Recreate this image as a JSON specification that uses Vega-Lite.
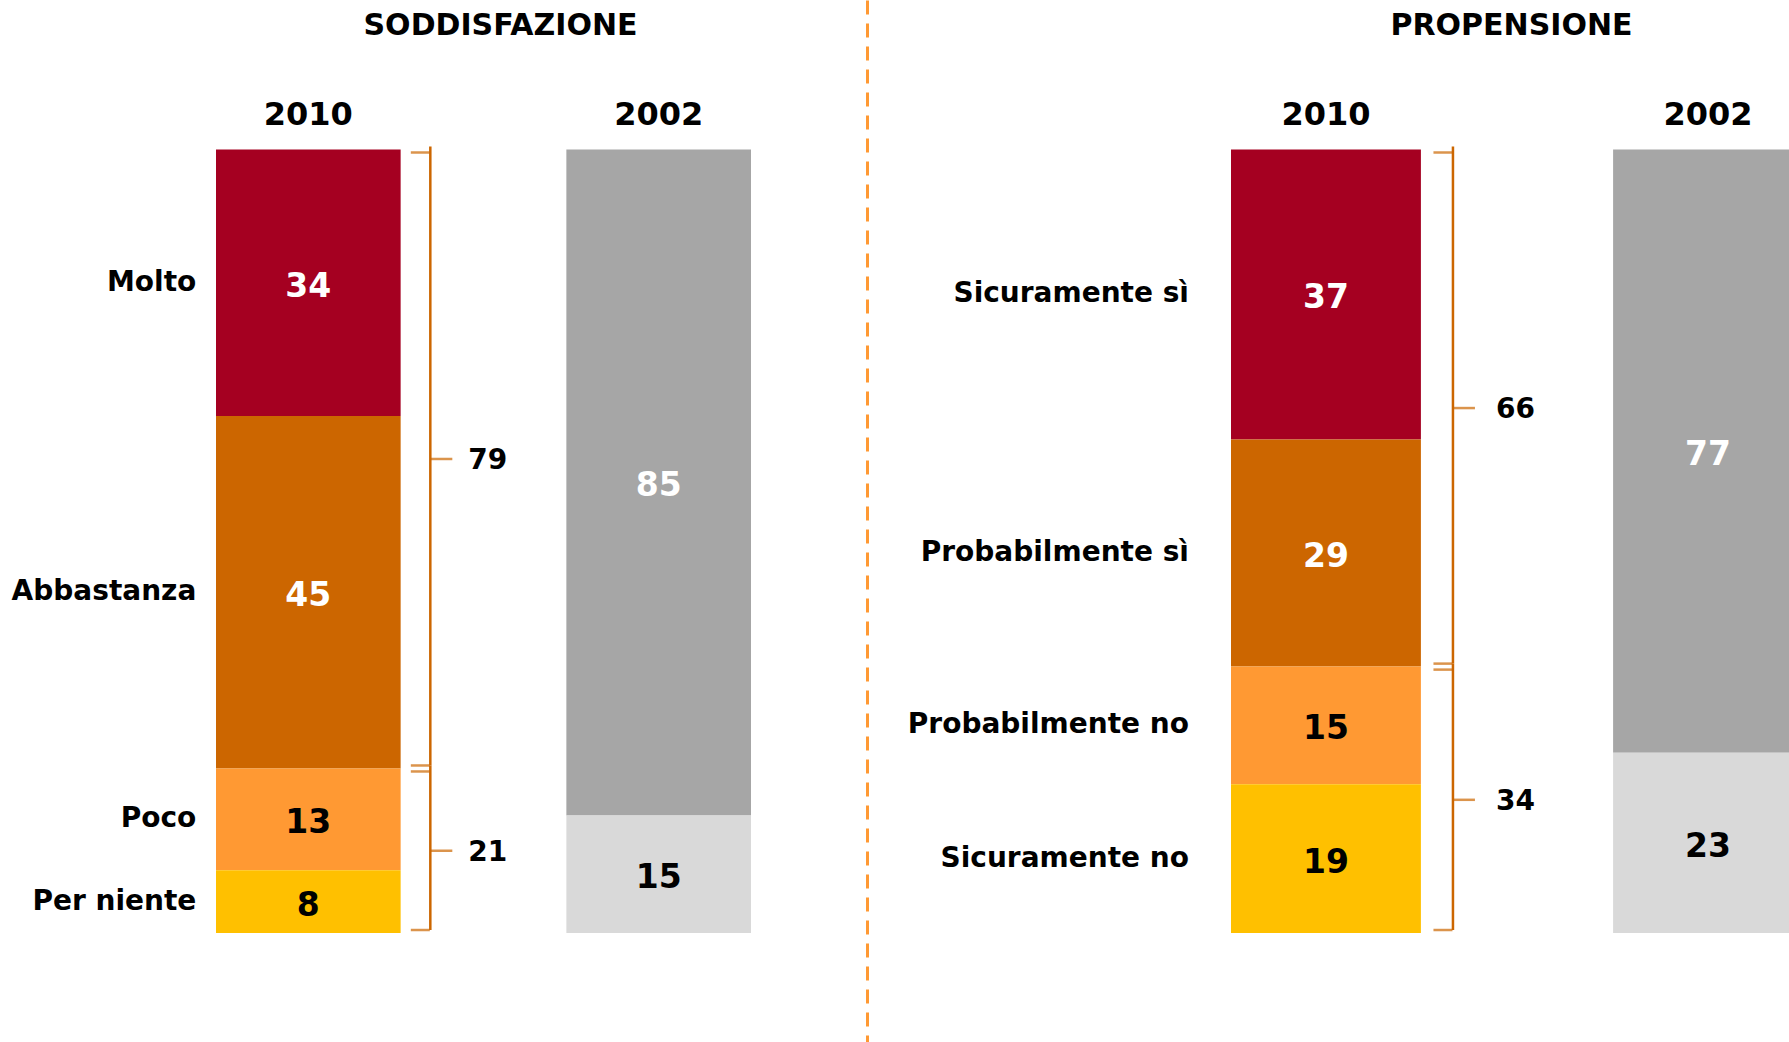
{
  "$schema": "https://vega.github.io/schema/vega-lite/v6.json",
  "padding": 0,
  "autosize": {"type": "pad"},
  "background": "white",
  "spacing": 0,
  "config": {
    "view": {"stroke": null},
    "text": {"font": "DejaVu Sans"},
    "axis": {"labelFont": "DejaVu Sans", "titleFont": "DejaVu Sans"}
  },
  "datasets": {
    "bars": [
      {"panel": "S", "year": "2010", "cat": "Molto", "value": 34, "ord": 1},
      {"panel": "S", "year": "2010", "cat": "Abbastanza", "value": 45, "ord": 2},
      {"panel": "S", "year": "2010", "cat": "Poco", "value": 13, "ord": 3},
      {"panel": "S", "year": "2010", "cat": "Per niente", "value": 8, "ord": 4},
      {"panel": "S", "year": "2002", "cat": "Positivo", "value": 85, "ord": 1},
      {"panel": "S", "year": "2002", "cat": "Negativo", "value": 15, "ord": 2},
      {"panel": "P", "year": "2010", "cat": "Sicuramente sì", "value": 37, "ord": 1},
      {"panel": "P", "year": "2010", "cat": "Probabilmente sì", "value": 29, "ord": 2},
      {"panel": "P", "year": "2010", "cat": "Probabilmente no", "value": 15, "ord": 3},
      {"panel": "P", "year": "2010", "cat": "Sicuramente no", "value": 19, "ord": 4},
      {"panel": "P", "year": "2002", "cat": "Positivo", "value": 77, "ord": 1},
      {"panel": "P", "year": "2002", "cat": "Negativo", "value": 23, "ord": 2}
    ],
    "braces": [
      {"panel": "S", "year": "2010", "grp": "pos", "value": 79, "ord": 1},
      {"panel": "S", "year": "2010", "grp": "neg", "value": 21, "ord": 2},
      {"panel": "P", "year": "2010", "grp": "pos", "value": 66, "ord": 1},
      {"panel": "P", "year": "2010", "grp": "neg", "value": 34, "ord": 2}
    ]
  },
  "hconcat": [
    {
      "width": 867,
      "height": 1042,
      "encoding": {
        "x": {
          "field": "year", "type": "nominal",
          "scale": {"domain": ["2010", "2002"], "range": [216, 751], "paddingInner": 0.473, "paddingOuter": 0},
          "axis": {
            "orient": "top", "offset": -131, "domain": false, "ticks": false, "grid": false,
            "labelPadding": 0, "labelFontSize": 32, "labelFontWeight": "bold", "labelColor": "#000000", "labelAngle": 0,
            "title": "SODDISFAZIONE", "titleFontSize": 30, "titleFontWeight": "bold", "titleColor": "#000000",
            "titleX": 500, "titleY": -91, "titleAlign": "center", "titleBaseline": "bottom", "titleAngle": 0
          }
        }
      },
      "layer": [
        {
          "data": {"name": "bars"},
          "transform": [{"filter": "datum.panel === 'S'"}],
          "mark": {"type": "bar"},
          "encoding": {
            "y": {"field": "value", "type": "quantitative", "stack": "zero", "scale": {"domain": [-19.08, 113.91], "reverse": true, "nice": false, "zero": false}, "axis": null},
            "color": {"field": "cat", "type": "nominal", "legend": null,
              "scale": {"domain": ["Molto", "Abbastanza", "Poco", "Per niente", "Sicuramente sì", "Probabilmente sì", "Probabilmente no", "Sicuramente no", "Positivo", "Negativo"],
                        "range": ["#A50021", "#CC6600", "#FF9933", "#FFC000", "#A50021", "#CC6600", "#FF9933", "#FFC000", "#A6A6A6", "#D9D9D9"]}},
            "order": {"field": "ord", "type": "quantitative"}
          }
        },
        {
          "data": {"name": "bars"},
          "transform": [{"filter": "datum.panel === 'S'"}],
          "mark": {"type": "text", "fontSize": 33, "fontWeight": "bold", "baseline": "middle", "align": "center", "dy": 4},
          "encoding": {
            "y": {"field": "value", "type": "quantitative", "stack": "zero", "bandPosition": 0.5, "axis": null},
            "text": {"field": "value", "type": "quantitative"},
            "fill": {"field": "cat", "type": "nominal", "legend": null,
              "scale": {"domain": ["Molto", "Abbastanza", "Poco", "Per niente", "Sicuramente sì", "Probabilmente sì", "Probabilmente no", "Sicuramente no", "Positivo", "Negativo"],
                        "range": ["#FFFFFF", "#FFFFFF", "#000000", "#000000", "#FFFFFF", "#FFFFFF", "#000000", "#000000", "#FFFFFF", "#000000"]}},
            "order": {"field": "ord", "type": "quantitative"}
          }
        },
        {
          "data": {"name": "bars"},
          "transform": [{"filter": "datum.panel === 'S' && datum.year === '2010'"}],
          "mark": {"type": "text", "fontSize": 28, "fontWeight": "bold", "baseline": "middle", "align": "right", "dx": -112, "color": "#000000"},
          "encoding": {
            "y": {"field": "value", "type": "quantitative", "stack": "zero", "bandPosition": 0.5, "axis": null},
            "text": {"field": "cat", "type": "nominal"},
            "detail": {"field": "cat", "type": "nominal"},
            "order": {"field": "ord", "type": "quantitative"}
          }
        },
        {
          "data": {"name": "braces"},
          "transform": [{"filter": "datum.panel === 'S'"}],
          "mark": {"type": "bar", "width": 2.5, "xOffset": 122, "color": "#CC6600", "yOffset": -3, "y2Offset": 3},
          "encoding": {
            "y": {"field": "value", "type": "quantitative", "stack": "zero", "axis": null},
            "detail": {"field": "grp", "type": "nominal"},
            "order": {"field": "ord", "type": "quantitative"}
          }
        },
        {
          "data": {"name": "braces"},
          "transform": [{"filter": "datum.panel === 'S'"}],
          "mark": {"type": "tick", "orient": "horizontal", "size": 19, "thickness": 2.5, "xOffset": 112, "yOffset": 3, "color": "#CC6600"},
          "encoding": {
            "y": {"field": "value", "type": "quantitative", "stack": "zero", "bandPosition": 0, "axis": null},
            "detail": {"field": "grp", "type": "nominal"},
            "order": {"field": "ord", "type": "quantitative"}
          }
        },
        {
          "data": {"name": "braces"},
          "transform": [{"filter": "datum.panel === 'S'"}],
          "mark": {"type": "tick", "orient": "horizontal", "size": 19, "thickness": 2.5, "xOffset": 112, "yOffset": -3, "color": "#CC6600"},
          "encoding": {
            "y": {"field": "value", "type": "quantitative", "stack": "zero", "bandPosition": 1, "axis": null},
            "detail": {"field": "grp", "type": "nominal"},
            "order": {"field": "ord", "type": "quantitative"}
          }
        },
        {
          "data": {"name": "braces"},
          "transform": [{"filter": "datum.panel === 'S'"}],
          "mark": {"type": "tick", "orient": "horizontal", "size": 22, "thickness": 2.5, "xOffset": 133, "color": "#CC6600"},
          "encoding": {
            "y": {"field": "value", "type": "quantitative", "stack": "zero", "bandPosition": 0.5, "axis": null},
            "detail": {"field": "grp", "type": "nominal"},
            "order": {"field": "ord", "type": "quantitative"}
          }
        },
        {
          "data": {"name": "braces"},
          "transform": [{"filter": "datum.panel === 'S'"}],
          "mark": {"type": "text", "fontSize": 28, "fontWeight": "bold", "baseline": "middle", "align": "left", "dx": 160, "dy": 2, "color": "#000000"},
          "encoding": {
            "y": {"field": "value", "type": "quantitative", "stack": "zero", "bandPosition": 0.5, "axis": null},
            "text": {"field": "value", "type": "quantitative"},
            "detail": {"field": "grp", "type": "nominal"},
            "order": {"field": "ord", "type": "quantitative"}
          }
        }
      ]
    },
    {
      "width": 922,
      "height": 1042,
      "encoding": {
        "x": {
          "field": "year", "type": "nominal",
          "scale": {"domain": ["2010", "2002"], "range": [364, 936], "paddingInner": 0.503, "paddingOuter": 0},
          "axis": {
            "orient": "top", "offset": -131, "domain": false, "ticks": false, "grid": false,
            "labelPadding": 0, "labelFontSize": 32, "labelFontWeight": "bold", "labelColor": "#000000", "labelAngle": 0,
            "title": "PROPENSIONE", "titleFontSize": 30, "titleFontWeight": "bold", "titleColor": "#000000",
            "titleX": 644, "titleY": -91, "titleAlign": "center", "titleBaseline": "bottom", "titleAngle": 0
          }
        }
      },
      "layer": [
        {
          "data": {"name": "bars"},
          "transform": [{"filter": "datum.panel === 'P'"}],
          "mark": {"type": "bar", "clip": true},
          "encoding": {
            "y": {"field": "value", "type": "quantitative", "stack": "zero", "scale": {"domain": [-19.08, 113.91], "reverse": true, "nice": false, "zero": false},
              "axis": {"orient": "left", "domain": true, "domainColor": "#FF9933", "domainWidth": 3, "domainDash": [14, 9], "ticks": false, "labels": false, "grid": false, "title": null}},
            "color": {"field": "cat", "type": "nominal", "legend": null,
              "scale": {"domain": ["Molto", "Abbastanza", "Poco", "Per niente", "Sicuramente sì", "Probabilmente sì", "Probabilmente no", "Sicuramente no", "Positivo", "Negativo"],
                        "range": ["#A50021", "#CC6600", "#FF9933", "#FFC000", "#A50021", "#CC6600", "#FF9933", "#FFC000", "#A6A6A6", "#D9D9D9"]}},
            "order": {"field": "ord", "type": "quantitative"}
          }
        },
        {
          "data": {"name": "bars"},
          "transform": [{"filter": "datum.panel === 'P'"}],
          "mark": {"type": "text", "fontSize": 33, "fontWeight": "bold", "baseline": "middle", "align": "center", "dy": 4},
          "encoding": {
            "y": {"field": "value", "type": "quantitative", "stack": "zero", "bandPosition": 0.5,
              "axis": {"orient": "left", "domain": true, "domainColor": "#FF9933", "domainWidth": 3, "domainDash": [14, 9], "ticks": false, "labels": false, "grid": false, "title": null}},
            "text": {"field": "value", "type": "quantitative"},
            "fill": {"field": "cat", "type": "nominal", "legend": null,
              "scale": {"domain": ["Molto", "Abbastanza", "Poco", "Per niente", "Sicuramente sì", "Probabilmente sì", "Probabilmente no", "Sicuramente no", "Positivo", "Negativo"],
                        "range": ["#FFFFFF", "#FFFFFF", "#000000", "#000000", "#FFFFFF", "#FFFFFF", "#000000", "#000000", "#FFFFFF", "#000000"]}},
            "order": {"field": "ord", "type": "quantitative"}
          }
        },
        {
          "data": {"name": "bars"},
          "transform": [{"filter": "datum.panel === 'P' && datum.year === '2010'"}],
          "mark": {"type": "text", "fontSize": 28, "fontWeight": "bold", "baseline": "middle", "align": "right", "dx": -137, "color": "#000000"},
          "encoding": {
            "y": {"field": "value", "type": "quantitative", "stack": "zero", "bandPosition": 0.5,
              "axis": {"orient": "left", "domain": true, "domainColor": "#FF9933", "domainWidth": 3, "domainDash": [14, 9], "ticks": false, "labels": false, "grid": false, "title": null}},
            "text": {"field": "cat", "type": "nominal"},
            "detail": {"field": "cat", "type": "nominal"},
            "order": {"field": "ord", "type": "quantitative"}
          }
        },
        {
          "data": {"name": "braces"},
          "transform": [{"filter": "datum.panel === 'P'"}],
          "mark": {"type": "bar", "width": 2.5, "xOffset": 127, "color": "#CC6600", "yOffset": -3, "y2Offset": 3},
          "encoding": {
            "y": {"field": "value", "type": "quantitative", "stack": "zero",
              "axis": {"orient": "left", "domain": true, "domainColor": "#FF9933", "domainWidth": 3, "domainDash": [14, 9], "ticks": false, "labels": false, "grid": false, "title": null}},
            "detail": {"field": "grp", "type": "nominal"},
            "order": {"field": "ord", "type": "quantitative"}
          }
        },
        {
          "data": {"name": "braces"},
          "transform": [{"filter": "datum.panel === 'P'"}],
          "mark": {"type": "tick", "orient": "horizontal", "size": 19, "thickness": 2.5, "xOffset": 117, "yOffset": 3, "color": "#CC6600"},
          "encoding": {
            "y": {"field": "value", "type": "quantitative", "stack": "zero", "bandPosition": 0,
              "axis": {"orient": "left", "domain": true, "domainColor": "#FF9933", "domainWidth": 3, "domainDash": [14, 9], "ticks": false, "labels": false, "grid": false, "title": null}},
            "detail": {"field": "grp", "type": "nominal"},
            "order": {"field": "ord", "type": "quantitative"}
          }
        },
        {
          "data": {"name": "braces"},
          "transform": [{"filter": "datum.panel === 'P'"}],
          "mark": {"type": "tick", "orient": "horizontal", "size": 19, "thickness": 2.5, "xOffset": 117, "yOffset": -3, "color": "#CC6600"},
          "encoding": {
            "y": {"field": "value", "type": "quantitative", "stack": "zero", "bandPosition": 1,
              "axis": {"orient": "left", "domain": true, "domainColor": "#FF9933", "domainWidth": 3, "domainDash": [14, 9], "ticks": false, "labels": false, "grid": false, "title": null}},
            "detail": {"field": "grp", "type": "nominal"},
            "order": {"field": "ord", "type": "quantitative"}
          }
        },
        {
          "data": {"name": "braces"},
          "transform": [{"filter": "datum.panel === 'P'"}],
          "mark": {"type": "tick", "orient": "horizontal", "size": 22, "thickness": 2.5, "xOffset": 138, "color": "#CC6600"},
          "encoding": {
            "y": {"field": "value", "type": "quantitative", "stack": "zero", "bandPosition": 0.5,
              "axis": {"orient": "left", "domain": true, "domainColor": "#FF9933", "domainWidth": 3, "domainDash": [14, 9], "ticks": false, "labels": false, "grid": false, "title": null}},
            "detail": {"field": "grp", "type": "nominal"},
            "order": {"field": "ord", "type": "quantitative"}
          }
        },
        {
          "data": {"name": "braces"},
          "transform": [{"filter": "datum.panel === 'P'"}],
          "mark": {"type": "text", "fontSize": 28, "fontWeight": "bold", "baseline": "middle", "align": "left", "dx": 170, "dy": 2, "color": "#000000"},
          "encoding": {
            "y": {"field": "value", "type": "quantitative", "stack": "zero", "bandPosition": 0.5,
              "axis": {"orient": "left", "domain": true, "domainColor": "#FF9933", "domainWidth": 3, "domainDash": [14, 9], "ticks": false, "labels": false, "grid": false, "title": null}},
            "text": {"field": "value", "type": "quantitative"},
            "detail": {"field": "grp", "type": "nominal"},
            "order": {"field": "ord", "type": "quantitative"}
          }
        }
      ]
    }
  ]
}
